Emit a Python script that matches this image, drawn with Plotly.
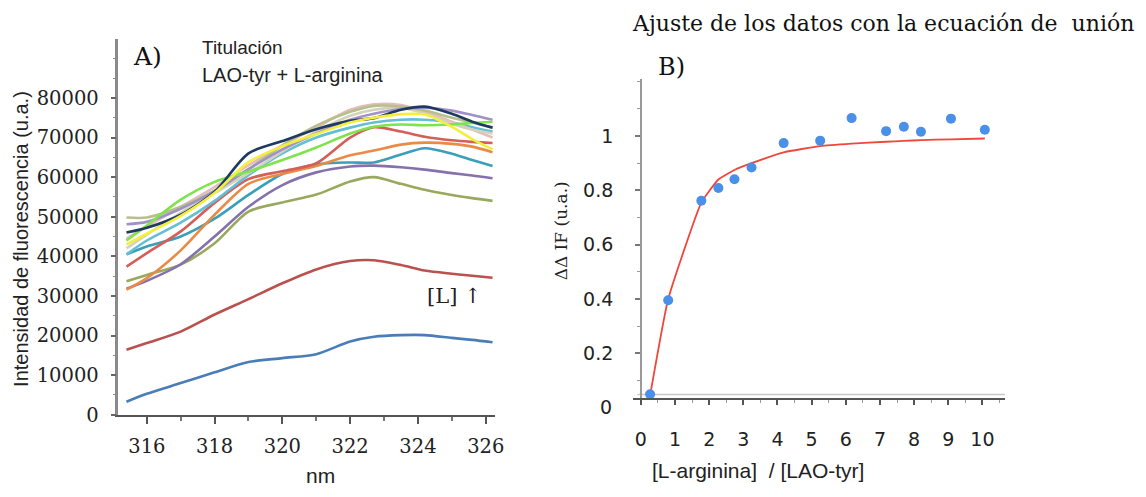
import plotly.graph_objects as go

W, H = 1146, 497

# ---------------- Panel A data (fluorescence titration spectra) ----------------
wavelength = [315.4, 316, 317, 318, 319, 320, 321, 322, 322.7, 323.5, 324.2, 325, 325.6, 326.2]

spec_blue     = [3300, 5300, 8000, 10700, 13300, 14300, 15300, 18500, 19700, 20100, 20100, 19400, 18900, 18300]
spec_brick    = [16400, 18100, 21000, 25300, 29200, 33200, 36700, 38800, 39000, 37800, 36400, 35600, 35100, 34600]
spec_olive    = [33700, 35300, 37900, 43300, 51300, 53600, 55600, 58900, 60000, 58300, 56800, 55500, 54700, 54000]
spec_purple   = [31800, 33800, 38000, 45000, 52500, 58000, 61200, 62700, 62900, 62500, 61900, 61000, 60400, 59700]
spec_teal     = [40500, 42500, 45000, 49500, 55500, 60800, 63200, 63700, 63700, 65700, 67300, 65900, 64300, 62800]
spec_orange   = [31600, 34500, 41500, 50500, 58300, 60800, 62800, 65500, 66700, 68200, 68700, 68400, 67700, 66300]
spec_red      = [37400, 40800, 46300, 53500, 59500, 61500, 63500, 70000, 72600, 71500, 70200, 69300, 68900, 68600]
spec_cyan     = [40500, 44000, 48500, 54000, 60500, 66000, 70000, 72500, 73800, 74500, 74500, 73800, 72600, 71500]
spec_pink     = [44500, 47500, 52500, 57500, 63000, 68000, 72500, 77000, 78400, 78200, 76500, 74000, 72000, 70000]
spec_pale     = [42000, 45500, 51000, 56000, 61000, 66500, 71500, 75500, 77000, 77500, 76000, 73500, 72000, 71000]
spec_khaki    = [49800, 49800, 52500, 56500, 62000, 68000, 73000, 76500, 78000, 77800, 76800, 75000, 73800, 72500]
spec_lavender = [48100, 48700, 52000, 56500, 62000, 67000, 71000, 74500, 76000, 77200, 77500, 76800, 75700, 74500]
spec_green    = [44000, 47800, 54300, 58800, 61400, 64300, 67500, 71000, 72700, 73300, 73100, 73300, 73700, 74000]
spec_navy     = [46000, 47200, 50500, 56300, 66000, 69100, 72100, 74200, 74900, 77000, 77800, 76000, 74000, 72500]
spec_yellow   = [43000, 45700, 50200, 56000, 63800, 67800, 70900, 73800, 75000, 75900, 75800, 72700, 69600, 67000]

y_ticks_a = [0, 10000, 20000, 30000, 40000, 50000, 60000, 70000, 80000]
y_text_a = ["0", "10000", "20000", "30000", "40000", "50000", "60000", "70000", "80000"]
x_ticks_a = [316, 318, 320, 322, 324, 326]

# ---------------- Panel B data (binding fit) ----------------
ratio    = [0.27, 0.80, 1.77, 2.27, 2.74, 3.24, 4.18, 5.25, 6.17, 7.18, 7.70, 8.20, 9.08, 10.07]
delta_if = [0.050, 0.396, 0.762, 0.809, 0.841, 0.884, 0.974, 0.983, 1.066, 1.018, 1.034, 1.016, 1.064, 1.023]
fit_if   = [0.045, 0.40, 0.755, 0.84, 0.875, 0.90, 0.94, 0.963, 0.972, 0.979, 0.982, 0.985, 0.988, 0.991]

x_ticks_b = [0, 1, 2, 3, 4, 5, 6, 7, 8, 9, 10]
y_ticks_b = [0.2, 0.4, 0.6, 0.8, 1.0]
y_text_b = ["0.2", "0.4", "0.6", "0.8", "1"]


def px(x):
    return x / W


def py(y):
    return 1 - y / H


series = [
    (spec_blue, "#4a7db8"),
    (spec_brick, "#b9524f"),
    (spec_olive, "#98a95e"),
    (spec_purple, "#8571ab"),
    (spec_teal, "#3b9fba"),
    (spec_orange, "#e98b47"),
    (spec_red, "#d45f58"),
    (spec_cyan, "#62bfd6"),
    (spec_pink, "#e3bdbb"),
    (spec_pale, "#d3d3bd"),
    (spec_khaki, "#b7c08c"),
    (spec_lavender, "#a192c6"),
    (spec_green, "#7ee34c"),
    (spec_navy, "#1f3a60"),
    (spec_yellow, "#f4ee3c"),
]

fig = go.Figure()
for vals, col in series:
    fig.add_trace(go.Scatter(
        x=wavelength, y=vals, mode="lines",
        line=dict(color=col, width=2.6, shape="spline", smoothing=0.8),
        xaxis="x", yaxis="y", showlegend=False, hoverinfo="skip",
    ))

fig.add_trace(go.Scatter(
    x=ratio, y=fit_if, mode="lines",
    line=dict(color="#f0463c", width=1.8, shape="spline", smoothing=0.4),
    xaxis="x2", yaxis="y2", showlegend=False,
))
fig.add_trace(go.Scatter(
    x=ratio, y=delta_if, mode="markers",
    marker=dict(color="#4a8fe8", size=10),
    xaxis="x2", yaxis="y2", showlegend=False,
))

serif = "DejaVu Serif"
sans = "Liberation Sans"

# Panel A axes
ax_a_x = (119.4, 498.9)
ax_a_y = (40, 425)
fig.update_layout(
    xaxis=dict(
        domain=[px(ax_a_x[0]), px(ax_a_x[1])], range=[315.16, 326.26],
        anchor="y", showgrid=False, zeroline=False,
        showline=True, linecolor="#555", linewidth=2,
        tickmode="array", tickvals=x_ticks_a,
        ticks="outside", ticklen=7, tickwidth=2, tickcolor="#555",
        minor=dict(tickmode="array", tickvals=[315, 317, 319, 321, 323, 325],
                   ticks="outside", ticklen=4, tickwidth=1.5, tickcolor="#777"),
        tickfont=dict(family=serif, size=19.5, color="#222"),
        ticklabelstandoff=6,
    ),
    yaxis=dict(
        domain=[py(ax_a_y[1]), py(ax_a_y[0])], range=[0, 94870],
        anchor="x", showgrid=False, zeroline=False,
        showline=True, linecolor="#8a8a8a", linewidth=2.5,
        tickmode="array", tickvals=y_ticks_a, ticktext=y_text_a,
        ticks="outside", ticklen=5, tickwidth=1.5, tickcolor="#666",
        minor=dict(dtick=5000, tick0=0, ticks="outside", ticklen=3, tickwidth=1, tickcolor="#888"),
        tickfont=dict(family=serif, size=19.5, color="#222"),
        ticklabelstandoff=8,
    ),
)

# Panel B axes
b_x = (639, 1013.8)
b_y = (81, 408.3)
fig.update_layout(
    xaxis2=dict(
        domain=[px(b_x[0]), px(b_x[1])], range=[-0.218, 10.66],
        anchor="y2", showgrid=False, zeroline=False,
        showline=True, linecolor="#555", linewidth=1.5,
        tickmode="array", tickvals=x_ticks_b,
        ticks="outside", ticklen=5, tickwidth=1.5, tickcolor="#555",
        minor=dict(dtick=0.5, tick0=0, ticks="outside", ticklen=3, tickwidth=1, tickcolor="#999"),
        tickfont=dict(family="DejaVu Sans", size=19, color="#222"),
        ticklabelstandoff=18,
    ),
    yaxis2=dict(
        domain=[py(b_y[1]), py(b_y[0])], range=[0.0345, 1.2097],
        anchor="free", position=px(646.5), showgrid=False, zeroline=False,
        showline=True, linecolor="#999", linewidth=1.5,
        tickmode="array", tickvals=y_ticks_b, ticktext=y_text_b,
        ticks="outside", ticklen=5, tickwidth=1.5, tickcolor="#777",
        minor=dict(dtick=0.1, tick0=0, ticks="outside", ticklen=3, tickwidth=1, tickcolor="#999"),
        tickfont=dict(family="DejaVu Sans", size=19, color="#222"),
        ticklabelstandoff=18,
    ),
)

fig.add_shape(type="line", xref="x2", yref="y2", x0=-0.1, x1=10.66, y0=0.049, y1=0.049,
              line=dict(color="#c8c8c8", width=1.5), layer="below")

annotations = [
    dict(text="Ajuste de los datos con la ecuación de&nbsp; unión", x=px(636), y=py(24),
         xanchor="left", yanchor="middle", font=dict(family=serif, size=22, color="#111")),
    dict(text="A)", x=px(149), y=py(58), xanchor="center", yanchor="middle",
         font=dict(family=serif, size=25, color="#111")),
    dict(text="B)", x=px(677), y=py(69), xanchor="center", yanchor="middle",
         font=dict(family=serif, size=24, color="#111")),
    dict(text="Titulación", x=px(202), y=py(49), xanchor="left", yanchor="middle",
         font=dict(family=sans, size=19, color="#222")),
    dict(text="LAO-tyr + L-arginina", x=px(202), y=py(77), xanchor="left", yanchor="middle",
         font=dict(family=sans, size=20, color="#222")),
    dict(text="[L] ↑", x=px(458), y=py(303), xanchor="center", yanchor="middle",
         font=dict(family=serif, size=21, color="#222")),
    dict(text="Intensidad de fluorescencia (u.a.)", x=px(21), y=py(245), textangle=-90,
         xanchor="center", yanchor="middle", font=dict(family=sans, size=20, color="#222")),
    dict(text="nm", x=px(323), y=py(487), xanchor="center", yanchor="middle",
         font=dict(family=sans, size=21, color="#222")),
    dict(text="ΔΔ IF (u.a.)", x=px(566), y=py(237), textangle=-90,
         xanchor="center", yanchor="middle", font=dict(family=serif, size=17, color="#222")),
    dict(text="[L-arginina]&nbsp; / [LAO-tyr]", x=px(765), y=py(482), xanchor="center", yanchor="middle",
         font=dict(family=sans, size=21, color="#222")),
    dict(text="0", x=px(611), y=py(417.5), xanchor="center", yanchor="middle",
         font=dict(family="DejaVu Sans", size=19, color="#222")),
]
for a in annotations:
    a.setdefault("xref", "paper")
    a.setdefault("yref", "paper")
    a["showarrow"] = False
    fig.add_annotation(**a)

fig.update_layout(
    width=W, height=H, margin=dict(l=0, r=0, t=0, b=0),
    paper_bgcolor="white", plot_bgcolor="white", showlegend=False,
)

fig.write_html("out.html")
